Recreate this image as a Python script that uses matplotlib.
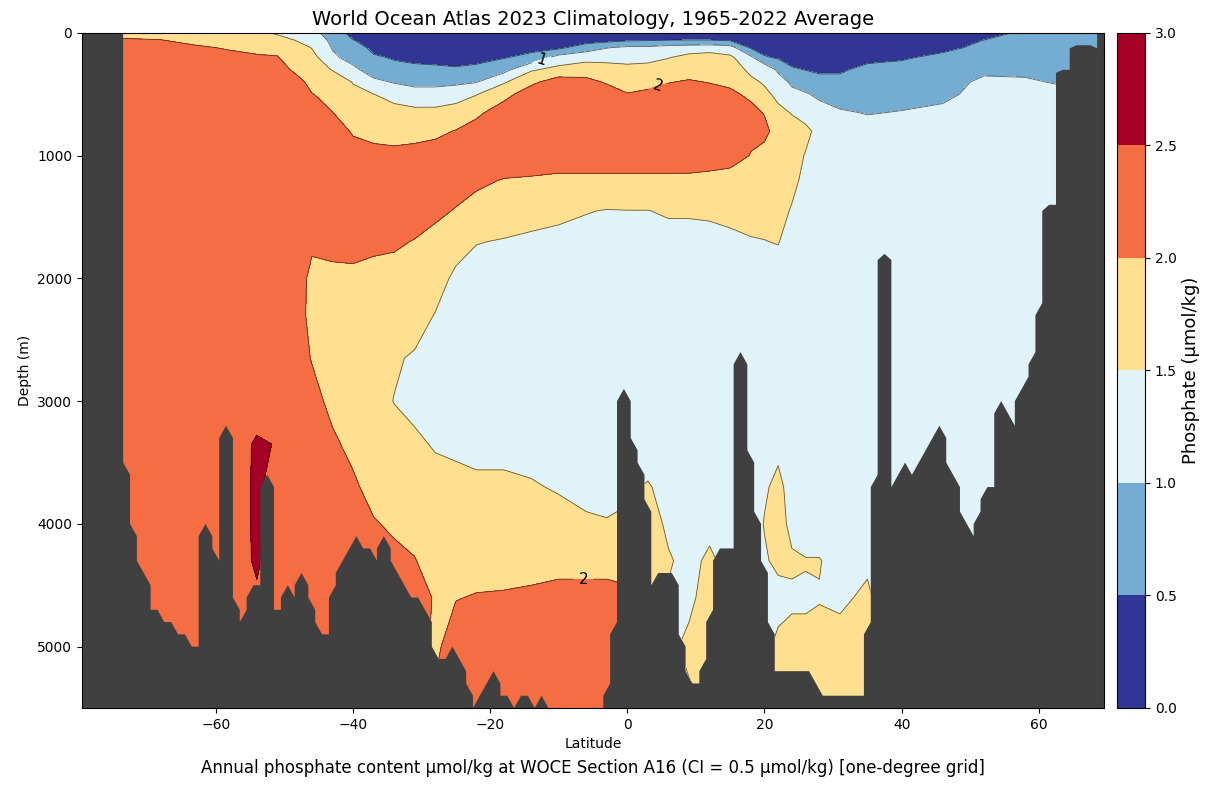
import numpy as np
import matplotlib
matplotlib.use("Agg")
import matplotlib.pyplot as plt

# ---------------------------------------------------------------------------
# Phosphate section (umol/kg) along WOCE A16, sampled on a coarse section grid
# ---------------------------------------------------------------------------
section_lat = [-79.5, -73, -68, -63, -58, -54, -51, -48, -46, -43, -40, -37, -34,
               -31, -28, -25, -22, -18, -14, -10, -6, -3, 0, 3, 6, 9, 12, 15,
               18, 20, 22, 24, 26, 28, 31, 35, 40, 46, 52, 58, 64, 69.5]

section_depth = [0, 60, 120, 200, 300, 400, 500, 650, 800, 1000, 1200, 1450,
                 1700, 2000, 2300, 2650, 3000, 3350, 3700, 4000, 4300, 4600,
                 5000, 5500]

# one vertical profile per section latitude (top to bottom)
phosphate_profiles = [
    [1.85, 2.05, 2.2, 2.25, 2.25, 2.25, 2.25, 2.25, 2.25, 2.25, 2.25, 2.25, 2.25, 2.25, 2.25, 2.25, 2.25, 2.3, 2.3, 2.3, 2.3, 2.3, 2.3, 2.3],
    [1.85, 2.05, 2.2, 2.25, 2.25, 2.25, 2.25, 2.25, 2.25, 2.25, 2.25, 2.25, 2.25, 2.25, 2.25, 2.25, 2.25, 2.3, 2.3, 2.3, 2.3, 2.3, 2.3, 2.3],
    [1.8, 2.02, 2.2, 2.25, 2.25, 2.25, 2.25, 2.25, 2.25, 2.25, 2.25, 2.25, 2.25, 2.25, 2.25, 2.25, 2.25, 2.3, 2.3, 2.3, 2.3, 2.3, 2.3, 2.3],
    [1.75, 1.85, 2.08, 2.25, 2.25, 2.25, 2.25, 2.25, 2.25, 2.25, 2.25, 2.25, 2.25, 2.25, 2.25, 2.25, 2.25, 2.3, 2.3, 2.3, 2.3, 2.3, 2.3, 2.3],
    [1.75, 1.8, 1.95, 2.15, 2.25, 2.25, 2.25, 2.25, 2.25, 2.25, 2.25, 2.25, 2.25, 2.25, 2.25, 2.3, 2.3, 2.3, 2.3, 2.3, 2.3, 2.3, 2.3, 2.3],
    [1.7, 1.8, 1.9, 2.05, 2.25, 2.25, 2.25, 2.25, 2.25, 2.25, 2.25, 2.25, 2.25, 2.25, 2.25, 2.3, 2.3, 2.55, 2.56, 2.56, 2.55, 2.45, 2.3, 2.3],
    [1.4, 1.8, 1.9, 2.02, 2.25, 2.25, 2.25, 2.25, 2.25, 2.25, 2.25, 2.25, 2.25, 2.25, 2.25, 2.3, 2.35, 2.48, 2.35, 2.3, 2.3, 2.3, 2.3, 2.3],
    [1.25, 1.45, 1.72, 1.75, 1.85, 2.14, 2.25, 2.25, 2.25, 2.25, 2.25, 2.25, 2.25, 2.25, 2.25, 2.25, 2.25, 2.25, 2.25, 2.25, 2.25, 2.25, 2.25, 2.25],
    [1.1, 1.3, 1.48, 1.68, 1.75, 1.85, 2.02, 2.25, 2.25, 2.25, 2.25, 2.25, 2.1, 1.85, 1.8, 1.97, 2.2, 2.25, 2.25, 2.25, 2.25, 2.25, 2.25, 2.25],
    [0.85, 0.9, 0.97, 1.08, 1.48, 1.8, 1.85, 2.01, 2.25, 2.25, 2.25, 2.25, 2.12, 1.9, 1.75, 1.75, 1.85, 2.1, 2.25, 2.25, 2.25, 2.25, 2.25, 2.25],
    [0.3, 0.52, 0.7, 0.85, 1.1, 1.48, 1.6, 1.75, 1.95, 2.2, 2.25, 2.25, 2.15, 1.9, 1.75, 1.7, 1.75, 1.85, 2.1, 2.25, 2.25, 2.25, 2.25, 2.25],
    [0.2, 0.3, 0.4, 0.55, 0.8, 1.1, 1.51, 1.75, 1.9, 2.1, 2.25, 2.25, 2.1, 1.85, 1.7, 1.65, 1.65, 1.7, 1.8, 2.05, 2.25, 2.25, 2.25, 2.25],
    [0.2, 0.25, 0.3, 0.47, 0.6, 0.97, 1.3, 1.7, 1.85, 2.1, 2.25, 2.25, 2.06, 1.85, 1.7, 1.55, 1.49, 1.65, 1.75, 1.9, 2.15, 2.25, 2.25, 2.25],
    [0.15, 0.2, 0.3, 0.4, 0.6, 0.9, 1.15, 1.65, 1.8, 2.2, 2.25, 2.2, 1.98, 1.8, 1.7, 1.45, 1.35, 1.6, 1.75, 1.85, 2.02, 2.25, 2.25, 2.25],
    [0.15, 0.2, 0.25, 0.35, 0.6, 0.9, 1.15, 1.65, 1.9, 2.2, 2.25, 2.1, 1.85, 1.7, 1.48, 1.3, 1.3, 1.45, 1.7, 1.75, 1.8, 1.95, 1.9, 2.1],
    [0.15, 0.2, 0.25, 0.35, 0.55, 0.9, 1.3, 1.7, 2.02, 2.25, 2.2, 1.97, 1.7, 1.4, 1.25, 1.2, 1.25, 1.4, 1.65, 1.75, 1.8, 1.98, 2.25, 2.25],
    [0.15, 0.2, 0.25, 0.38, 0.6, 0.98, 1.48, 1.9, 2.2, 2.25, 2.08, 1.85, 1.52, 1.3, 1.2, 1.15, 1.2, 1.35, 1.6, 1.75, 1.8, 2.03, 2.25, 2.25],
    [0.15, 0.2, 0.3, 0.47, 0.85, 1.45, 1.85, 2.25, 2.25, 2.25, 1.98, 1.75, 1.47, 1.25, 1.15, 1.15, 1.2, 1.35, 1.6, 1.75, 1.8, 2.05, 2.25, 2.25],
    [0.15, 0.2, 0.35, 0.65, 1.45, 1.9, 2.25, 2.25, 2.25, 2.25, 1.95, 1.7, 1.4, 1.2, 1.15, 1.15, 1.2, 1.3, 1.55, 1.7, 1.8, 2.1, 2.25, 2.25],
    [0.15, 0.25, 0.4, 1.2, 1.65, 2.25, 2.25, 2.25, 2.25, 2.25, 1.9, 1.6, 1.38, 1.2, 1.15, 1.1, 1.15, 1.2, 1.45, 1.7, 1.85, 2.15, 2.25, 2.25],
    [0.15, 0.3, 0.75, 1.35, 1.75, 2.15, 2.25, 2.25, 2.25, 2.25, 1.9, 1.52, 1.35, 1.2, 1.1, 1.1, 1.1, 1.15, 1.3, 1.6, 1.85, 2.15, 2.25, 2.25],
    [0.15, 0.35, 0.98, 1.35, 1.7, 1.95, 2.25, 2.25, 2.25, 2.25, 1.9, 1.48, 1.3, 1.15, 1.1, 1.1, 1.1, 1.1, 1.25, 1.55, 1.85, 2.15, 2.25, 2.25],
    [0.15, 0.45, 1.1, 1.38, 1.6, 1.75, 2.03, 2.25, 2.25, 2.25, 1.9, 1.49, 1.3, 1.15, 1.1, 1.1, 1.1, 1.2, 1.4, 1.6, 1.8, 2.1, 2.25, 2.25],
    [0.15, 0.48, 1.1, 1.38, 1.65, 1.85, 2.1, 2.25, 2.25, 2.25, 1.9, 1.49, 1.3, 1.15, 1.1, 1.1, 1.1, 1.2, 1.55, 1.75, 1.75, 1.9, 1.8, 1.8],
    [0.15, 0.51, 1.2, 1.48, 1.75, 1.98, 2.2, 2.25, 2.25, 2.25, 1.9, 1.55, 1.35, 1.2, 1.1, 1.1, 1.1, 1.15, 1.3, 1.4, 1.55, 1.45, 1.4, 1.4],
    [0.15, 0.52, 1.25, 1.65, 1.8, 2.05, 2.25, 2.25, 2.25, 2.25, 1.9, 1.55, 1.35, 1.2, 1.1, 1.1, 1.1, 1.15, 1.2, 1.3, 1.35, 1.4, 1.6, 1.4],
    [0.15, 0.52, 1.3, 1.7, 1.8, 1.98, 2.2, 2.25, 2.25, 2.25, 1.85, 1.55, 1.4, 1.2, 1.1, 1.1, 1.1, 1.15, 1.2, 1.35, 1.6, 1.7, 1.7, 1.6],
    [0.15, 0.46, 1.2, 1.6, 1.75, 1.9, 2.1, 2.25, 2.25, 2.2, 1.8, 1.6, 1.42, 1.2, 1.1, 1.1, 1.1, 1.15, 1.2, 1.25, 1.3, 1.4, 1.5, 1.5],
    [0.15, 0.3, 0.45, 1.1, 1.4, 1.6, 1.9, 2.15, 2.1, 1.98, 1.75, 1.6, 1.48, 1.25, 1.15, 1.1, 1.1, 1.2, 1.3, 1.3, 1.3, 1.35, 1.4, 1.4],
    [0.15, 0.2, 0.3, 0.55, 1.4, 1.45, 1.6, 1.97, 2.15, 1.8, 1.75, 1.65, 1.49, 1.3, 1.15, 1.1, 1.1, 1.25, 1.45, 1.52, 1.45, 1.4, 1.4, 1.4],
    [0.15, 0.2, 0.25, 0.45, 0.9, 1.25, 1.4, 1.6, 1.75, 1.8, 1.8, 1.7, 1.52, 1.3, 1.15, 1.1, 1.15, 1.4, 1.6, 1.65, 1.6, 1.35, 1.6, 1.6],
    [0.15, 0.2, 0.25, 0.35, 0.55, 0.9, 1.15, 1.48, 1.65, 1.7, 1.65, 1.45, 1.3, 1.2, 1.1, 1.1, 1.1, 1.2, 1.35, 1.4, 1.55, 1.45, 1.6, 1.6],
    [0.15, 0.2, 0.25, 0.35, 0.49, 0.75, 1.05, 1.3, 1.62, 1.47, 1.35, 1.25, 1.2, 1.15, 1.1, 1.1, 1.1, 1.15, 1.2, 1.3, 1.52, 1.45, 1.6, 1.6],
    [0.15, 0.2, 0.25, 0.3, 0.45, 0.6, 0.9, 1.2, 1.35, 1.3, 1.25, 1.2, 1.2, 1.15, 1.1, 1.1, 1.1, 1.15, 1.2, 1.3, 1.52, 1.48, 1.62, 1.6],
    [0.15, 0.2, 0.25, 0.3, 0.45, 0.6, 0.8, 1.05, 1.2, 1.25, 1.25, 1.2, 1.2, 1.15, 1.1, 1.1, 1.1, 1.15, 1.2, 1.25, 1.35, 1.45, 1.6, 1.6],
    [0.15, 0.2, 0.25, 0.4, 0.6, 0.7, 0.8, 0.98, 1.15, 1.2, 1.2, 1.2, 1.2, 1.15, 1.1, 1.1, 1.1, 1.15, 1.2, 1.3, 1.45, 1.55, 1.6, 1.6],
    [0.15, 0.2, 0.25, 0.45, 0.65, 0.75, 0.85, 1.02, 1.15, 1.2, 1.2, 1.2, 1.2, 1.15, 1.1, 1.1, 1.1, 1.15, 1.2, 1.2, 1.2, 1.2, 1.2, 1.2],
    [0.15, 0.25, 0.4, 0.6, 0.7, 0.8, 0.9, 1.1, 1.15, 1.2, 1.2, 1.2, 1.2, 1.15, 1.1, 1.1, 1.1, 1.15, 1.2, 1.2, 1.2, 1.2, 1.2, 1.2],
    [0.3, 0.51, 0.6, 0.75, 0.9, 1.1, 1.15, 1.2, 1.2, 1.2, 1.2, 1.2, 1.2, 1.15, 1.1, 1.1, 1.1, 1.15, 1.2, 1.2, 1.2, 1.2, 1.2, 1.2],
    [0.6, 0.65, 0.7, 0.8, 0.92, 1.05, 1.15, 1.2, 1.2, 1.2, 1.2, 1.2, 1.2, 1.15, 1.1, 1.1, 1.1, 1.15, 1.2, 1.2, 1.2, 1.2, 1.2, 1.2],
    [0.65, 0.7, 0.75, 0.8, 0.85, 0.95, 1.1, 1.2, 1.2, 1.2, 1.2, 1.2, 1.2, 1.15, 1.1, 1.1, 1.1, 1.15, 1.2, 1.2, 1.2, 1.2, 1.2, 1.2],
    [0.65, 0.7, 0.75, 0.8, 0.85, 0.95, 1.1, 1.2, 1.2, 1.2, 1.2, 1.2, 1.2, 1.15, 1.1, 1.1, 1.1, 1.15, 1.2, 1.2, 1.2, 1.2, 1.2, 1.2],
]

# ---------------------------------------------------------------------------
# Bottom depth (m) of the deepest wet level on the one-degree grid, -79.5..69.5
# (0 = land column)
# ---------------------------------------------------------------------------
bottom_depth = [
    0, 0, 0, 0, 0, 0,                                      # -79.5 .. -74.5
    3500, 4000, 4300, 4400, 4700, 4700, 4800, 4800, 4900, 4900,  # -73.5 .. -64.5
    5000, 5000, 4000, 4200, 4300, 3200, 4600, 4900, 4700, 4500,  # -63.5 .. -54.5
    4500, 3600, 4700, 4700, 4500, 4600, 4400, 4600, 4800, 4900,  # -53.5 .. -44.5
    4900, 4500, 4300, 4200, 4100, 4200, 4200, 4300, 4100, 4300,  # -43.5 .. -34.5
    4400, 4500, 4600, 4600, 4700, 5000, 5100, 5100, 5000, 5100,  # -33.5 .. -24.5
    5300, 5500, 5400, 5300, 5200, 5400, 5400, 5500, 5400, 5400,  # -23.5 .. -14.5
    5500, 5400, 5500, 5500, 5500, 5500, 5500, 5500, 5500, 5500,  # -13.5 .. -4.5
    5500, 5300, 4800, 2900, 3300, 3500, 3800, 4500, 4400, 4400,  # -3.5 .. 5.5
    4400, 4900, 5200, 5300, 5300, 5100, 4700, 4200, 4200, 4200,  # 6.5 .. 15.5
    2600, 3400, 3900, 4300, 4800, 5200, 5200, 5200, 5200, 5200,  # 16.5 .. 25.5
    5200, 5300, 5400, 5400, 5400, 5400, 5400, 5400, 5400, 4800,  # 26.5 .. 35.5
    3600, 1800, 3800, 3600, 3500, 3600, 3500, 3400, 3300, 3200,  # 36.5 .. 45.5
    3500, 3600, 3900, 4000, 4100, 3900, 3700, 3700, 3000, 3100,  # 46.5 .. 55.5
    3200, 2900, 2800, 2600, 2200, 1400, 1400, 300, 300, 100,     # 56.5 .. 65.5
    100, 100, 200, 0,                                           # 66.5 .. 69.5
]

contour_levels = [0.0, 0.5, 1.0, 1.5, 2.0, 2.5, 3.0]
plain_line_levels = [0.5, 1.5, 2.5]
labelled_line_levels = [1.0, 2.0]
colorbar_ticks = [0.0, 0.5, 1.0, 1.5, 2.0, 2.5, 3.0]

# isoline labels: (latitude, depth) near which each label is placed
label_positions = [(-12.6, 196), (4.4, 424), (-6.4, 4434)]

# ---------------------------------------------------------------------------
lat = np.array(section_lat)
depth = np.array(section_depth, dtype=float)
phosphate = np.array(phosphate_profiles).T          # (depth, lat)

# one-degree model grid and standard depth levels used for the sea floor
grid_lat = np.arange(-79.5, 69.6, 1.0)
std_depths = np.concatenate([np.arange(0, 100, 5), np.arange(100, 500, 25),
                             np.arange(500, 2000, 50), np.arange(2000, 5501, 100)])
bottom = np.array(bottom_depth, dtype=float)
wet = (bottom[None, :] > 0) & (std_depths[:, None] <= bottom[None, :])
level_grid = np.repeat(std_depths[:, None], grid_lat.size, axis=1).astype(float)
ocean_field = np.ma.masked_where(~wet, level_grid)

fig = plt.figure(figsize=(12.08, 7.85), dpi=100)
ax = fig.add_axes([0.0679, 0.0981, 0.8460, 0.8599])
cax = fig.add_axes([0.9247, 0.0981, 0.0232, 0.8599])

land_color = "#404040"
ax.set_facecolor(land_color)

# wet region of the section (land shows through as the axes background)
ocean = ax.contourf(grid_lat, std_depths, ocean_field, levels=[-1, 6000], colors=["white"])
ocean_path = ocean.get_paths()[0]
ocean.remove()

cmap = plt.get_cmap("RdYlBu_r", 6)
filled = ax.contourf(lat, depth, phosphate, levels=contour_levels, cmap=cmap,
                     vmin=0, vmax=3)
filled.set_clip_path(ocean_path, ax.transData)

line_style = dict(colors="k", linewidths=0.6, alpha=0.6)
plain_lines = ax.contour(lat, depth, phosphate, levels=plain_line_levels, **line_style)
plain_lines.set_clip_path(ocean_path, ax.transData)
labelled_lines = ax.contour(lat, depth, phosphate, levels=labelled_line_levels, **line_style)
labelled_lines.set_clip_path(ocean_path, ax.transData)
labels = ax.clabel(labelled_lines, manual=label_positions, inline=True,
                   fmt="%g", fontsize=11, colors="k")
for txt in labels:
    txt.set_alpha(1.0)

ax.set_xlim(-79.5, 69.5)
ax.set_ylim(5500, 0)
ax.set_xlabel("Latitude", fontsize=10)
ax.set_ylabel("Depth (m)", fontsize=10)
ax.tick_params(labelsize=10)
ax.set_title("World Ocean Atlas 2023 Climatology, 1965-2022 Average", fontsize=14)

cb = fig.colorbar(filled, cax=cax, ticks=colorbar_ticks)
cb.set_label("Phosphate (\u00b5mol/kg)", fontsize=13)
cb.ax.tick_params(labelsize=10)

fig.text(0.491, 0.0217,
         "Annual phosphate content \u00b5mol/kg at WOCE Section A16 "
         "(CI = 0.5 \u00b5mol/kg) [one-degree grid]",
         ha="center", va="center", fontsize=12)

fig.savefig("out.png", dpi=100)
